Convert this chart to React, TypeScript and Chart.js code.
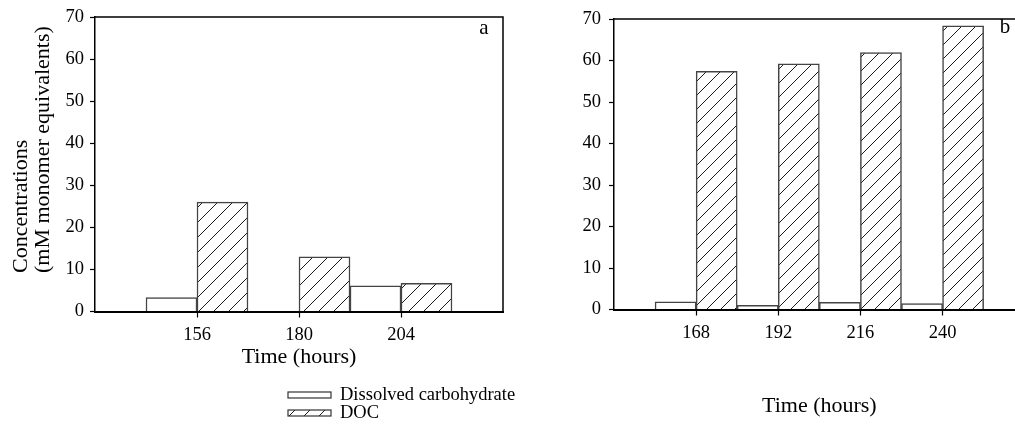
import React, { useEffect, useRef } from 'react';
import { Chart, registerables } from 'chart.js';

Chart.register(...registerables);

const SERIF = "'Liberation Serif', 'Times New Roman', Times, serif";

// Panel a: sampling times and concentrations
const hoursA = [156, 180, 204];
const carbA: (number | null)[] = [3.3, null, 6.1];
const docA = [26.0, 13.0, 6.7];

// Panel b: sampling times and concentrations
const hoursB = [168, 192, 216, 240];
const carbB = [1.85, 1.0, 1.7, 1.4];
const docB = [57.4, 59.2, 61.9, 68.4];

const yTicks = [0, 10, 20, 30, 40, 50, 60, 70];
const seriesLabels = ['Dissolved carbohydrate', 'DOC'];
const yTitleLines = ['Concentrations', '(mM monomer equivalents)'];
const xTitle = 'Time (hours)';
const panelLetters = ['a', 'b'];

function hatch(size: number): CanvasPattern | string {
  const c = document.createElement('canvas');
  c.width = size;
  c.height = size;
  const g = c.getContext('2d');
  if (!g) return '#fff';
  g.fillStyle = '#ffffff';
  g.fillRect(0, 0, size, size);
  g.strokeStyle = '#1a1a1a';
  g.lineWidth = 1;
  g.beginPath();
  g.moveTo(0, size);
  g.lineTo(size, 0);
  g.moveTo(-2, 2);
  g.lineTo(2, -2);
  g.moveTo(size - 2, size + 2);
  g.lineTo(size + 2, size - 2);
  g.stroke();
  return g.createPattern(c, 'repeat') || '#fff';
}

// Top and right edges of the plot box
const framePlugin = {
  id: 'frame',
  afterDraw(chart: any) {
    const { ctx, chartArea } = chart;
    ctx.save();
    ctx.strokeStyle = '#000';
    ctx.lineWidth = 1.5;
    ctx.beginPath();
    ctx.moveTo(chartArea.left, chartArea.top);
    ctx.lineTo(chartArea.right, chartArea.top);
    ctx.lineTo(chartArea.right, chartArea.bottom);
    ctx.stroke();
    ctx.restore();
  },
};

// Panel letter in the upper-right corner
const letterPlugin = {
  id: 'letter',
  afterDraw(chart: any, _args: any, opts: any) {
    if (!opts || !opts.text) return;
    const { ctx } = chart;
    ctx.save();
    ctx.fillStyle = '#000';
    ctx.font = `21px ${SERIF}`;
    ctx.textAlign = 'center';
    ctx.textBaseline = 'middle';
    ctx.fillText(opts.text, opts.x, opts.y);
    ctx.restore();
  },
};

// Two-line y-axis title, both lines starting from the same point
const yTitlePlugin = {
  id: 'yTitle',
  afterDraw(chart: any, _args: any, opts: any) {
    if (!opts || !opts.lines) return;
    const { ctx } = chart;
    ctx.save();
    ctx.fillStyle = '#000';
    ctx.font = `22px ${SERIF}`;
    ctx.textAlign = 'left';
    ctx.textBaseline = 'middle';
    opts.lines.forEach((line: string, i: number) => {
      ctx.save();
      ctx.translate(opts.x + i * opts.lineGap, opts.y);
      ctx.rotate(-Math.PI / 2);
      ctx.fillText(line, 0, 0);
      ctx.restore();
    });
    ctx.restore();
  },
};

// Stacked legend built from the datasets
const legendPlugin = {
  id: 'stackLegend',
  afterDraw(chart: any, _args: any, opts: any) {
    if (!opts || !opts.show) return;
    const { ctx } = chart;
    ctx.save();
    chart.data.datasets.forEach((ds: any, i: number) => {
      const y = opts.y + i * opts.gap;
      ctx.fillStyle = ds.backgroundColor;
      ctx.fillRect(opts.x, y - 3, opts.w, 6);
      ctx.strokeStyle = '#333';
      ctx.lineWidth = 1.2;
      ctx.strokeRect(opts.x, y - 3, opts.w, 6);
      ctx.fillStyle = '#000';
      ctx.font = `18.5px ${SERIF}`;
      ctx.textAlign = 'left';
      ctx.textBaseline = 'middle';
      ctx.fillText(ds.label, opts.x + opts.w + 9, y);
    });
    ctx.restore();
  },
};

interface PanelSpec {
  hours: number[];
  carb: (number | null)[];
  doc: number[];
  xMin: number;
  xMax: number;
  yWidth: number;
  xHeight: number;
  padding: { left: number; top: number; right: number; bottom: number };
  hatchSize: number;
  tickPadX: number;
  tickPadY: number;
  titlePadBottom: number;
  letter: { text: string; x: number; y: number };
  yTitle: any;
  legend: any;
}

function makeConfig(p: PanelSpec): any {
  const tickFont = { family: SERIF, size: 18.5 };
  return {
    type: 'bar',
    data: {
      datasets: [
        {
          label: seriesLabels[0],
          data: p.hours.map((h, i) => ({ x: h, y: p.carb[i] })),
          backgroundColor: '#ffffff',
          borderColor: '#444',
          borderWidth: 1.5,
          borderSkipped: 'start',
          categoryPercentage: 1,
          barPercentage: 1,
        },
        {
          label: seriesLabels[1],
          data: p.hours.map((h, i) => ({ x: h, y: p.doc[i] })),
          backgroundColor: hatch(p.hatchSize),
          borderColor: '#444',
          borderWidth: 1.5,
          borderSkipped: 'start',
          categoryPercentage: 1,
          barPercentage: 1,
        },
      ],
    },
    options: {
      responsive: false,
      animation: false,
      devicePixelRatio: 1,
      layout: { padding: p.padding },
      plugins: {
        legend: { display: false },
        tooltip: { enabled: false },
        letter: p.letter,
        yTitle: p.yTitle,
        stackLegend: p.legend,
      },
      scales: {
        x: {
          type: 'linear',
          min: p.xMin,
          max: p.xMax,
          offset: false,
          afterBuildTicks: (s: any) => {
            s.ticks = p.hours.map((v) => ({ value: v }));
          },
          afterFit: (s: any) => {
            s.height = p.xHeight;
          },
          grid: {
            display: true,
            offset: false,
            drawOnChartArea: false,
            drawTicks: true,
            tickLength: 6,
            tickWidth: 1.2,
            tickColor: '#000',
          },
          border: { display: true, color: '#000', width: 2 },
          ticks: {
            color: '#000',
            font: tickFont,
            padding: p.tickPadX,
            maxRotation: 0,
            autoSkip: false,
            callback: (v: any) => String(v),
          },
          title: {
            display: true,
            text: xTitle,
            color: '#000',
            font: { family: SERIF, size: 22 },
            padding: { top: 0, bottom: p.titlePadBottom },
          },
        },
        y: {
          type: 'linear',
          min: 0,
          max: 70,
          afterBuildTicks: (s: any) => {
            s.ticks = yTicks.map((v) => ({ value: v }));
          },
          afterFit: (s: any) => {
            s.width = p.yWidth;
          },
          grid: {
            display: true,
            drawOnChartArea: false,
            drawTicks: true,
            tickLength: 5,
            tickWidth: 1.2,
            tickColor: '#000',
          },
          border: { display: true, color: '#000', width: 1.5 },
          ticks: {
            color: '#000',
            font: tickFont,
            padding: p.tickPadY,
            callback: (v: any) => String(v),
          },
        },
      },
    },
    plugins: [framePlugin, letterPlugin, yTitlePlugin, legendPlugin],
  };
}

const panelA: PanelSpec = {
  hours: hoursA,
  carb: carbA,
  doc: docA,
  xMin: 132,
  xMax: 228,
  yWidth: 95,
  xHeight: 60,
  padding: { left: 0, top: 16, right: 17, bottom: 430 - 311.5 - 60 },
  hatchSize: 15,
  tickPadX: 7,
  tickPadY: 6,
  titlePadBottom: 1.5,
  letter: { text: panelLetters[0], x: 484, y: 28 },
  yTitle: { lines: yTitleLines, x: 21, y: 273, lineGap: 22.5 },
  legend: { show: true, x: 288, y: 395, gap: 18, w: 43 },
};

const panelB: PanelSpec = {
  hours: hoursB,
  carb: carbB,
  doc: docB,
  xMin: 144,
  xMax: 264,
  yWidth: 74,
  xHeight: 110,
  padding: { left: 0, top: 14, right: 15.3, bottom: 430 - 309.5 - 110 },
  hatchSize: 14,
  tickPadX: 7,
  tickPadY: 8,
  titlePadBottom: 0.3,
  letter: { text: panelLetters[1], x: 465, y: 27 },
  yTitle: null,
  legend: null,
};

function Panel({ spec, left, width }: { spec: PanelSpec; left: number; width: number }) {
  const ref = useRef<HTMLCanvasElement | null>(null);
  useEffect(() => {
    if (!ref.current) return;
    const chart = new Chart(ref.current, makeConfig(spec));
    return () => chart.destroy();
  }, [spec]);
  return (
    <canvas
      ref={ref}
      width={width}
      height={430}
      style={{ position: 'absolute', left, top: 0, width, height: 430 }}
    />
  );
}

export default function App() {
  return (
    <div
      style={{
        position: 'absolute',
        left: 0,
        top: 0,
        width: 1015,
        height: 430,
        overflow: 'hidden',
        background: '#fff',
      }}
    >
      <Panel spec={panelA} left={0} width={520} />
      <Panel spec={panelB} left={540} width={500} />
    </div>
  );
}
